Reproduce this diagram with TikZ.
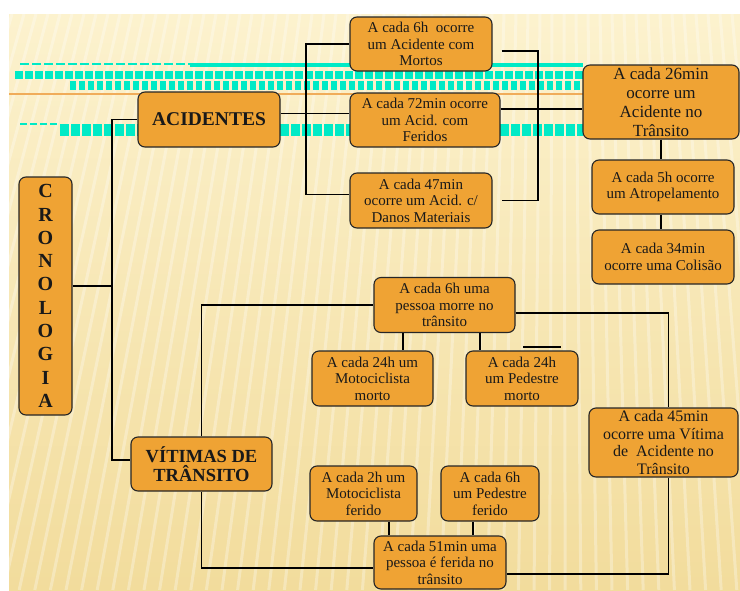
\documentclass[tikz,border=0pt]{standalone}
\usepackage{fontspec}
\setmainfont{Liberation Serif}
\definecolor{boxorange}{RGB}{239,163,52}
\definecolor{bgtop}{RGB}{252,242,206}
\definecolor{bgbottom}{RGB}{242,220,156}
\definecolor{glitch}{RGB}{0,234,198}
\definecolor{rulecol}{RGB}{240,172,90}

\begin{document}
\begin{tikzpicture}[x=1pt, y=-1pt, line width=1.1pt]
    \tikzset{box/.style={%
      draw=black!85,%
      fill=boxorange,%
      rounded corners=7pt,%
      align=center,%
      inner sep=1pt,%
      text=black!90,%
      font=\fontsize{15}{16.5}\selectfont}%
    };
\tikzset{bigbox/.style={box, font=\fontsize{19.5}{21}\selectfont\bfseries}};
\tikzset{glitchband/.style={draw=glitch, line cap=butt}};

\useasboundingbox (0,0) rectangle (740,590);

%background
\fill[white] (0,0) rectangle (740,590);
\shade[top color=bgtop, bottom color=bgbottom] (9,14) rectangle (740,590);
\begin{scope}
  \clip (9,14) rectangle (740,590);
  \foreach \x in {0,12,...,820}
    \draw[white, opacity=.3, line width=3pt] (\x,14) -- ({\x+(\x-560)*0.3},590);
\end{scope}

%stray bands across the top
\draw[rulecol, line width=2pt] (9,94) -- (583,94);
\fill[glitch] (190,63) rectangle (583,67);
\draw[glitchband, line width=2pt, dash pattern=on 9pt off 3pt] (20,64) -- (190,64);
\draw[glitchband, line width=8pt, dash pattern=on 8pt off 2pt] (15,75) -- (583,75);
\draw[glitchband, line width=9pt, dash pattern=on 6pt off 3pt] (70,85) -- (583,85);
\draw[glitchband, line width=1.5pt, dash pattern=on 7pt off 3pt] (20,124) -- (60,124);
\draw[glitchband, line width=12pt, dash pattern=on 9pt off 2pt] (60,130) -- (583,130);

%main nodes
\node[bigbox, font=\fontsize{20}{23.3}\selectfont\bfseries, minimum width=53pt, minimum height=238pt]
  (crono) at (45.5,296) {C\\R\\O\\N\\O\\L\\O\\G\\I\\A};
\node[bigbox, minimum width=142pt, minimum height=55pt] (acid) at (209,119.5) {ACIDENTES};
\node[bigbox, font=\fontsize{18.5}{19.5}\selectfont\bfseries, minimum width=141pt, minimum height=54pt]
  (vitimas) at (201.5,464) {VÍTIMAS DE\\TRÂNSITO};

%acidentes
\node[box, minimum width=142pt, minimum height=54pt] (mortos) at (421,44)
  {A cada 6h~ ocorre\\um Acidente com\\Mortos};
\node[box, minimum width=150pt, minimum height=54pt] (feridos) at (425,120)
  {A cada 72min ocorre\\um Acid. com\\Feridos};
\node[box, minimum width=142pt, minimum height=55pt] (danos) at (421,200.5)
  {A cada 47min\\ocorre um Acid. c/\\Danos Materiais};
\node[box, font=\fontsize{17}{19}\selectfont, minimum width=156pt, minimum height=74pt] (total) at (661,102)
  {A cada 26min\\ocorre um\\Acidente no\\Trânsito};
\node[box, minimum width=142pt, minimum height=54pt] (atrop) at (663,187)
  {A cada 5h ocorre\\um Atropelamento};
\node[box, minimum width=142pt, minimum height=54pt] (colisao) at (663,257)
  {A cada 34min\\ocorre uma Colisão};

%vitimas
\node[box, minimum width=141pt, minimum height=55pt] (mortes) at (444.5,305)
  {A cada 6h uma\\pessoa morre no\\trânsito};
\node[box, minimum width=121pt, minimum height=55pt] (motomorto) at (372.5,378.5)
  {A cada 24h um\\Motociclista\\morto};
\node[box, minimum width=112pt, minimum height=55pt] (pedmorto) at (522,378.5)
  {A cada 24h\\um Pedestre\\morto};
\node[box, font=\fontsize{16}{17.5}\selectfont, minimum width=149pt, minimum height=69pt] (vitima45) at (663.5,442.5)
  {A cada 45min\\ocorre uma Vítima\\de~ Acidente no\\Trânsito};
\node[box, minimum width=107pt, minimum height=55pt] (motoferido) at (363.5,493.5)
  {A cada 2h um\\Motociclista\\ferido};
\node[box, minimum width=98pt, minimum height=55pt] (pedferido) at (490,493.5)
  {A cada 6h\\um Pedestre\\ferido};
\node[box, minimum width=132pt, minimum height=53pt] (feridas) at (440,562.5)
  {A cada 51min uma\\pessoa é ferida no\\trânsito};

%left spine
\coordinate (spine) at (112,119.5);
\draw (acid.west) -- (spine) |- ([yshift=4pt]vitimas.west);
\draw ([yshift=10pt]crono.east) -- ([yshift=10pt]crono.east -| spine);

%acidentes brackets
\coordinate (lbrk) at (306,0);
\coordinate (rbrk) at (538,0);
\draw ([yshift=6pt]acid.east) -- ([yshift=6pt]acid.east -| feridos.west);
\draw (mortos.west) -- (mortos.west -| lbrk) -- ([yshift=6pt]danos.west -| lbrk) -- ([yshift=6pt]danos.west);
\draw ([xshift=9pt,yshift=-7pt]mortos.east) -- ([yshift=-7pt]mortos.east -| rbrk)
  -- (danos.east -| rbrk) -- ([xshift=9pt]danos.east);
\draw ([yshift=11pt]feridos.east) -- ([yshift=11pt]feridos.east -| total.west);
\draw (total.south) -- (total.south |- atrop.north);
\draw (atrop.south -| total.south) -- (total.south |- colisao.north);

%vitimas branches
\draw (vitimas.north) |- (mortes.west);
\draw (vitimas.south) |- ([yshift=-5.5pt]feridas.west);
\draw ([xshift=-41.5pt]mortes.south) -- ([xshift=-41.5pt]mortes.south |- motomorto.north);
\draw ([xshift=35.5pt]mortes.south) -- ([xshift=35.5pt]mortes.south |- pedmorto.north);
\draw ([yshift=-8pt]mortes.east) -| ([xshift=5pt]vitima45.north);
\draw ([xshift=5pt]vitima45.south) |- ([yshift=-11.5pt]feridas.east);
\draw ([xshift=25.5pt]motoferido.south) -- ([xshift=25.5pt]motoferido.south |- feridas.north);
\draw ([xshift=-17pt]pedferido.south) -- ([xshift=-17pt]pedferido.south |- feridas.north);

%short rule above the pedestrian box
\draw (523,347) -- (561,347);

\end{tikzpicture}
\end{document}
